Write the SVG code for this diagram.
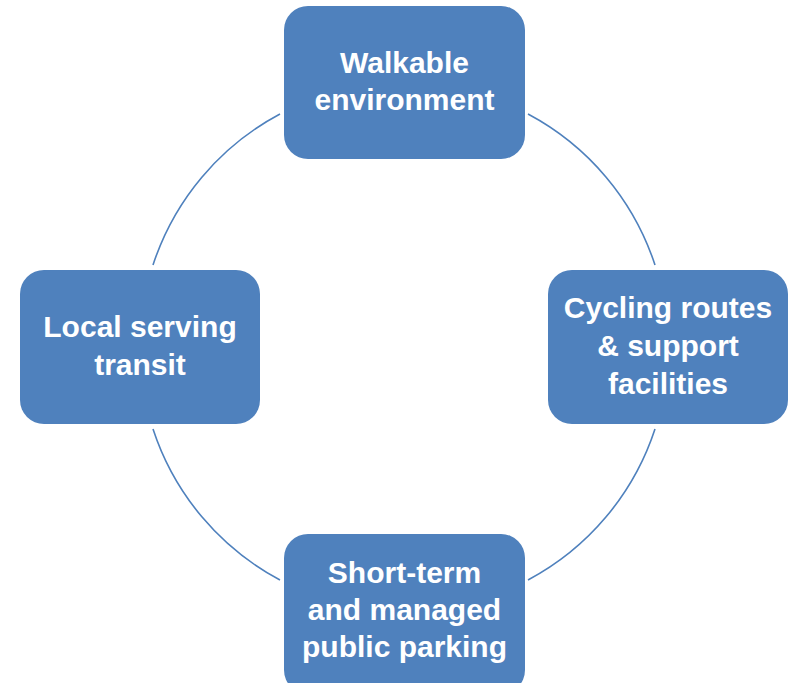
<svg xmlns="http://www.w3.org/2000/svg" width="788" height="683" viewBox="0 0 788 683">
  <style>
    .box { fill: #4F81BD; stroke: none; }
    .arc { fill: none; stroke: #4F81BD; stroke-width: 1.6; }
    .lbl { font-family: "Liberation Sans", Arial, sans-serif; font-weight: bold; font-size: 30px; fill: #FFFFFF; text-anchor: middle; }
  </style>
  <rect width="788" height="683" fill="#FFFFFF"/>

  <!-- ring segments between the four boxes -->
  <g id="connectors">
    <path class="arc" d="M 280 114 A 264 264 0 0 0 153 265"/>
    <path class="arc" d="M 528 114 A 264 264 0 0 1 655 265"/>
    <path class="arc" d="M 655 429 A 264 264 0 0 1 528 580"/>
    <path class="arc" d="M 280 580 A 264 264 0 0 1 153 429"/>
  </g>

  <g id="walkable">
    <rect class="box" x="284" y="6" width="241" height="153" rx="24"/>
    <text class="lbl" x="404.5" y="73">Walkable</text>
    <text class="lbl" x="404.5" y="110">environment</text>
  </g>

  <g id="transit">
    <rect class="box" x="20" y="270" width="240" height="154" rx="24"/>
    <text class="lbl" x="140" y="337">Local serving</text>
    <text class="lbl" x="140" y="375">transit</text>
  </g>

  <g id="cycling">
    <rect class="box" x="548" y="270" width="240" height="154" rx="24"/>
    <text class="lbl" x="668" y="318">Cycling routes</text>
    <text class="lbl" x="668" y="356">&amp; support</text>
    <text class="lbl" x="668" y="394">facilities</text>
  </g>

  <g id="parking">
    <rect class="box" x="284" y="534" width="241" height="160" rx="24"/>
    <text class="lbl" x="404.5" y="583">Short-term</text>
    <text class="lbl" x="404.5" y="620">and managed</text>
    <text class="lbl" x="404.5" y="657">public parking</text>
  </g>
</svg>
